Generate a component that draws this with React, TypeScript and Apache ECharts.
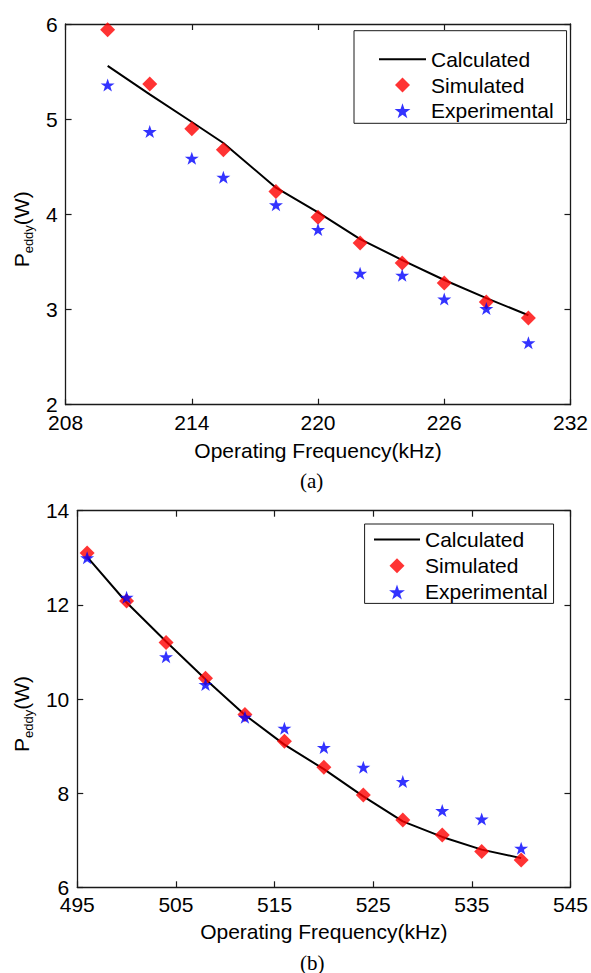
import React, { useEffect, useRef } from "react";
import * as echarts from "echarts";

const topFreq = [210, 212, 214, 215.5, 218, 220, 222, 224, 226, 228, 230];
const topCalculated = [5.56, 5.26, 4.97, 4.75, 4.28, 4.02, 3.74, 3.52, 3.31, 3.12, 2.94];
const topSimulated = [5.94, 5.37, 4.9, 4.68, 4.24, 3.97, 3.7, 3.49, 3.28, 3.08, 2.91];
const topExperimental = [5.36, 4.87, 4.59, 4.39, 4.1, 3.84, 3.38, 3.36, 3.11, 3.01, 2.65];

const bottomFreq = [496, 500, 504, 508, 512, 516, 520, 524, 528, 532, 536, 540];
const bottomCalculated = [13.02, 12.05, 11.22, 10.42, 9.66, 9.03, 8.51, 7.93, 7.4, 7.07, 6.8, 6.62];
const bottomSimulated = [13.1, 12.08, 11.2, 10.44, 9.67, 9.1, 8.55, 7.96, 7.43, 7.11, 6.76, 6.58];
const bottomExperimental = [13.0, 12.16, 10.9, 10.31, 9.61, 9.38, 8.97, 8.55, 8.25, 7.63, 7.45, 6.83];

const seriesNames = ["Calculated", "Simulated", "Experimental"];
const xAxisName = "Operating Frequency(kHz)";
const panelLabels = ["(a)", "(b)"];

const FONT = "'Liberation Sans', Arial, sans-serif";
const AXIS = "#1a1a1a";
const STAR =
  "path://M50,0 L61.8,35.1 L98.1,35.1 L68.8,56.7 L79.4,91 L50,70 L20.6,91 L31.2,56.7 L1.9,35.1 L38.2,35.1 Z";
const DIAMOND = "path://M50,0 L100,50 L50,100 L0,50 Z";
const LINE_ICON = "path://M0,0 L100,0 L100,4.2 L0,4.2 Z";
const legendIcons = [LINE_ICON, DIAMOND, STAR];

const zip = (xs: number[], ys: number[]) => xs.map((x, i) => [x, ys[i]]);

const axisBase = (grid: number, min: number, max: number, interval: number) => ({
  gridIndex: grid,
  type: "value",
  min,
  max,
  interval,
  splitLine: { show: false },
  axisLine: { show: true, onZero: false, lineStyle: { color: AXIS, width: 1.3 } },
  axisTick: { show: true, inside: true, length: 6, lineStyle: { color: AXIS, width: 1.2 } },
});

const labelStyle = { show: true, fontSize: 21, lineHeight: 15, fontFamily: FONT, color: "#000" };

function xAxes(grid: number, min: number, max: number, interval: number, gap: number) {
  const base = axisBase(grid, min, max, interval);
  return [
    {
      ...base,
      position: "bottom",
      name: xAxisName,
      nameLocation: "middle",
      nameGap: gap,
      nameTextStyle: { fontSize: 21, fontFamily: FONT, color: "#000" },
      axisLabel: { ...labelStyle, margin: 10 },
    },
    { ...base, position: "top", axisLabel: { show: false } },
  ];
}

function yAxes(grid: number, min: number, max: number, interval: number, gap: number) {
  const base = axisBase(grid, min, max, interval);
  return [
    {
      ...base,
      position: "left",
      name: "{p|P}{s|eddy}{p|(W)}",
      nameLocation: "middle",
      nameGap: gap,
      nameTextStyle: {
        fontFamily: FONT,
        color: "#000",
        padding: [0, 30, 0, 0],
        rich: {
          p: { fontSize: 21, lineHeight: 21, fontFamily: FONT, color: "#000" },
          s: { fontSize: 13, lineHeight: 13, padding: [14, 0, 0, 0], fontFamily: FONT, color: "#000" },
        },
      },
      axisLabel: { ...labelStyle, margin: 8 },
    },
    { ...base, position: "right", axisLabel: { show: false } },
  ];
}

function seriesFor(xi: number, yi: number, freq: number[], calc: number[], sim: number[], exp: number[]) {
  return [
    {
      name: seriesNames[0],
      type: "line",
      xAxisIndex: xi,
      yAxisIndex: yi,
      data: zip(freq, calc),
      symbol: "none",
      lineStyle: { color: "#000", width: 2 },
      itemStyle: { color: "#000" },
      z: 2,
    },
    {
      name: seriesNames[1],
      type: "scatter",
      xAxisIndex: xi,
      yAxisIndex: yi,
      data: zip(freq, sim),
      symbol: "diamond",
      symbolSize: 15,
      itemStyle: { color: "#ff0000" },
      z: 3,
    },
    {
      name: seriesNames[2],
      type: "scatter",
      xAxisIndex: xi,
      yAxisIndex: yi,
      data: zip(freq, exp),
      symbol: STAR,
      symbolSize: [14, 13],
      itemStyle: { color: "#0000ff" },
      z: 4,
    },
  ];
}

function legendAt(left: number, top: number, padding: number[], gap: number, itemWidth: number) {
  return {
    orient: "vertical",
    left,
    top,
    padding,
    itemGap: gap,
    itemWidth,
    itemHeight: 15,
    symbolKeepAspect: true,
    borderColor: AXIS,
    borderWidth: 1,
    backgroundColor: "#fff",
    data: seriesNames.map((name, i) => ({ name, icon: legendIcons[i] })),
    textStyle: { fontSize: 21, lineHeight: 21, fontFamily: FONT, color: "#000" },
  };
}

export default function App() {
  const ref = useRef<HTMLDivElement>(null);
  useEffect(() => {
    if (!ref.current) return;
    const chart = echarts.init(ref.current, null, { renderer: "svg" });
    chart.setOption({
      animation: false,
      backgroundColor: "#fff",
      grid: [
        { left: 60, right: 18, top: 24, height: 380.7 },
        { left: 66, right: 18, top: 510.7, height: 376.6 },
      ],
      xAxis: [...xAxes(0, 208, 232, 6, 35), ...xAxes(1, 495, 545, 10, 34)],
      yAxis: [...yAxes(0, 2, 6, 1, 30), ...yAxes(1, 6, 14, 2, 36)],
      legend: [
        legendAt(354, 30.7, [18, 13, 2, 25], 4.8, 47),
        legendAt(364.6, 524, [5, 6, 1, 9.4], 5.2, 46),
      ],
      series: [
        ...seriesFor(0, 0, topFreq, topCalculated, topSimulated, topExperimental),
        ...seriesFor(2, 2, bottomFreq, bottomCalculated, bottomSimulated, bottomExperimental),
      ],
      graphic: [
        {
          type: "text",
          left: 312 - 12,
          top: 470,
          style: { text: panelLabels[0], font: "21px 'Liberation Serif', 'Times New Roman', serif", fill: "#000" },
        },
        {
          type: "text",
          left: 312 - 12,
          top: 952,
          style: { text: panelLabels[1], font: "21px 'Liberation Serif', 'Times New Roman', serif", fill: "#000" },
        },
      ],
    });
    return () => chart.dispose();
  }, []);
  return (
    <div
      ref={ref}
      style={{ position: "absolute", left: 0, top: 0, width: 591, height: 973, background: "#fff" }}
    />
  );
}
